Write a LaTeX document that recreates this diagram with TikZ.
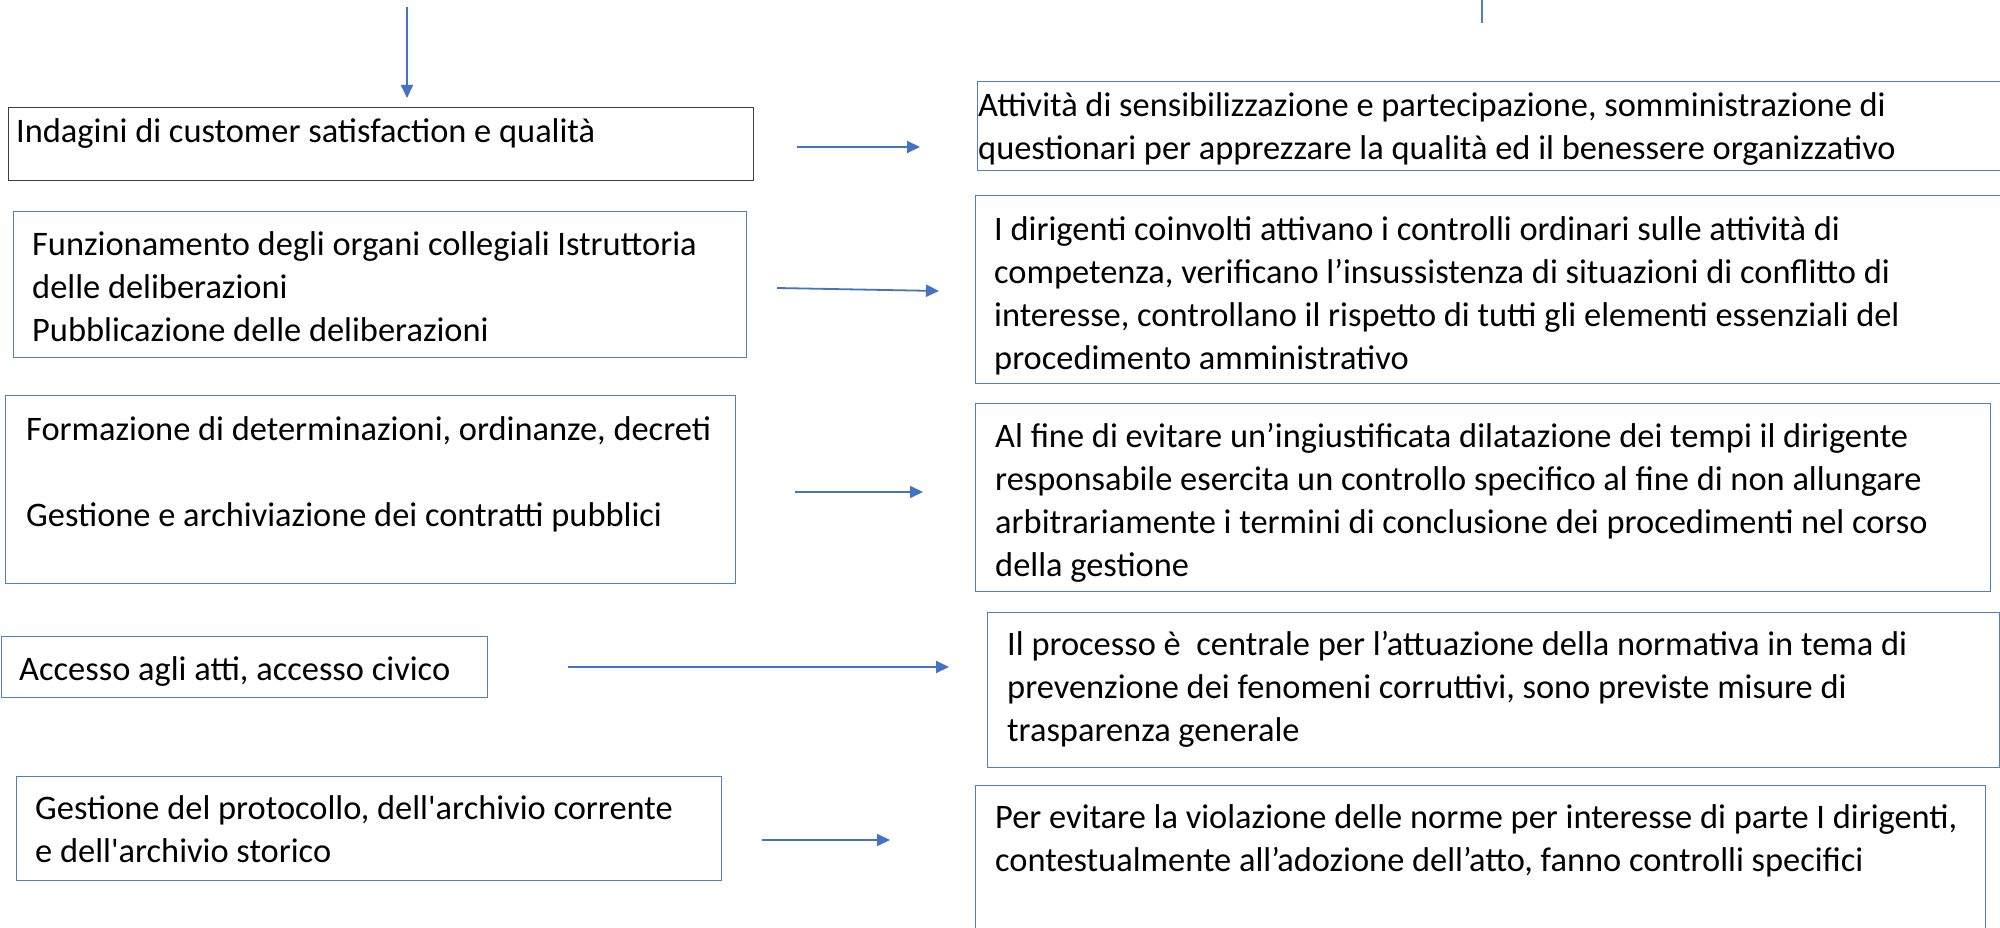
\documentclass[tikz,border=0pt]{standalone}
\usepackage{fontspec}
\setmainfont{Carlito}
\usetikzlibrary{positioning,calc,arrows.meta}
\definecolor{Frame}{HTML}{4F81BD}
\definecolor{Flow}{HTML}{4472C4}
\definecolor{FrameDark}{HTML}{404040}
\tikzset{flow layout/.style={%
    x=1pt,%
    y=-1pt,%
    panel/.style={%
        draw=Frame, line width=1.3pt, inner sep=0pt, anchor=north west
    },%
    panel text/.style={%
        inner sep=0pt, anchor=north west, align=left,
        font=\fontsize{34.4}{43}\selectfont
    },%
    link/.style={%
        Flow, line width=1.8pt, -{Triangle[width=12pt,length=13pt]}
    }%
}}

\begin{document}
\begin{tikzpicture}[flow layout]
    \clip (0,0) rectangle (2000,928);
    \fill[white] (0,0) rectangle (2000,928);

    % boxes
    \node[panel, draw=FrameDark, minimum width=745pt, minimum height=73pt] (l1) at (8,107) {};
    \foreach \n/\xa/\ya/\w/\h in {l2/13/211/733pt/146pt, l3/5/395/730pt/188pt,
                                  l4/1/636/486pt/61pt, l5/16/776/705pt/104pt,
                                  r1/977/81/1040pt/89pt, r2/975/195/1040pt/188pt,
                                  r3/975/403/1015pt/188pt, r4/987/612/1012pt/155pt,
                                  r5/975/785/1010pt/160pt} {
        \node[panel, minimum width=\w, minimum height=\h] (\n) at (\xa,\ya) {};
    }

    % texts
    \node[panel text] (l1t) at (16,112) {\strut Indagini di customer satisfaction e qualità};
    \node[panel text] (l2t) at (32,225) {\strut Funzionamento degli organi collegiali Istruttoria\\
        delle deliberazioni\\
        Pubblicazione delle deliberazioni};
    \node[panel text] (l3t) at (26,410) {\strut Formazione di determinazioni, ordinanze, decreti\\[43pt]
        Gestione e archiviazione dei contratti pubblici};
    \node[panel text] (l4t) at (19,650) {\strut Accesso agli atti, accesso civico};
    \node[panel text] (l5t) at (35,789) {\strut Gestione del protocollo, dell\textquotesingle archivio corrente\\
        e dell\textquotesingle archivio storico};

    \node[panel text] (r1t) at (978,86) {\strut Attività di sensibilizzazione e partecipazione, somministrazione di\\
        questionari per apprezzare la qualità ed il benessere organizzativo};
    \node[panel text] (r2t) at (994,210) {\strut I dirigenti coinvolti attivano i controlli ordinari sulle attività di\\
        competenza, verificano l’insussistenza di situazioni di conflitto di\\
        interesse, controllano il rispetto di tutti gli elementi essenziali del\\
        procedimento amministrativo};
    \node[panel text] (r3t) at (995,417) {\strut Al fine di evitare un’ingiustificata dilatazione dei tempi il dirigente\\
        responsabile esercita un controllo specifico al fine di non allungare\\
        arbitrariamente i termini di conclusione dei procedimenti nel corso\\
        della gestione};
    \node[panel text] (r4t) at (1007,625) {\strut Il processo è~ centrale per l’attuazione della normativa in tema di\\
        prevenzione dei fenomeni corruttivi, sono previste misure di\\
        trasparenza generale};
    \node[panel text] (r5t) at (995,798) {\strut Per evitare la violazione delle norme per interesse di parte I dirigenti,\\
        contestualmente all’adozione dell’atto, fanno controlli specifici};

    % arrows
    \coordinate (topin) at (407,7);
    \draw[link, shorten >=9pt] (topin) -- (topin |- l1.north);
    \coordinate (cut a) at (1482,0);
    \coordinate (cut b) at (1482,23);
    \draw[Frame, line width=1.1pt] (cut a) -- (cut b);

    \foreach \k/\xa/\ya/\xb/\yb in {1/797/147/920/147, 2/777/288/939/291, 3/795/492/923/492,
                                    4/568/667/949/667, 5/762/840/890/840} {
        \coordinate (s\k) at (\xa,\ya);
        \coordinate (e\k) at (\xb,\yb);
        \draw[link] (s\k) -- (e\k);
    }
\end{tikzpicture}
\end{document}
